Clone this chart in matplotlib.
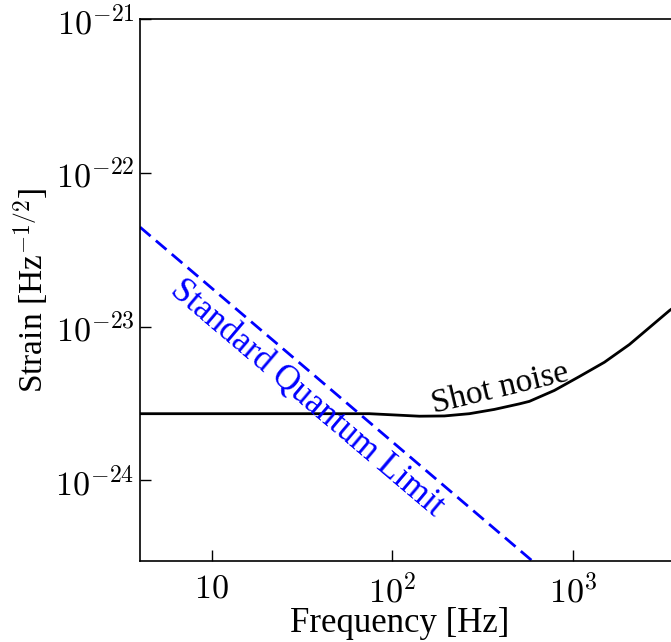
import numpy as np
import matplotlib
matplotlib.use('Agg')
import matplotlib.pyplot as plt

# values
shot_freq = [4, 20, 50, 74.6, 102.6, 141.2, 194.2, 267.2, 367.5, 505.6, 574.3,
             790.2, 1087, 1496, 2057, 3427, 4000]
shot_strain = [2.71e-24, 2.71e-24, 2.71e-24, 2.71e-24, 2.66e-24, 2.61e-24,
               2.62e-24, 2.71e-24, 2.89e-24, 3.14e-24, 3.26e-24, 3.84e-24,
               4.73e-24, 5.86e-24, 7.64e-24, 1.27e-23, 1.45e-23]
sql_freq = [4, 597]
sql_strain = [4.44e-23, 2.98e-25]

x_ticks = [10, 100, 1000]
x_labels = ['$10$', '$10^{2}$', '$10^{3}$']
y_ticks = [1e-24, 1e-23, 1e-22, 1e-21]
y_labels = ['$10^{-24}$', '$10^{-23}$', '$10^{-22}$', '$10^{-21}$']

plt.rcParams['mathtext.fontset'] = 'cm'
plt.rcParams['font.family'] = ['Liberation Serif', 'DejaVu Serif']

fig = plt.figure(figsize=(6.71, 6.42), dpi=100)
ax = fig.add_axes([140 / 671, 1 - 561 / 642, 541.5 / 671, (561 - 19.3) / 642])

ax.loglog(shot_freq, shot_strain, color='black', lw=2)
ax.loglog(sql_freq, sql_strain, color='#0000ff', lw=2, linestyle='--', dashes=(5, 2.5))

ax.set_xlim(4, 4000)
ax.set_ylim(2.98e-25, 1e-21)

ax.set_xticks(x_ticks)
ax.set_xticklabels(x_labels)
ax.set_yticks(y_ticks)
ax.set_yticklabels(y_labels)
ax.minorticks_off()
ax.tick_params(which='major', direction='in', length=8, width=1, labelsize=24.5)
ax.tick_params(axis='x', pad=9)
ax.tick_params(axis='y', pad=4)

for s in ax.spines.values():
    s.set_linewidth(1.2)

ax.set_xlabel('Frequency [Hz]', fontsize=25)
ax.xaxis.set_label_coords(0.48, -0.084)
ax.set_ylabel('Strain [Hz$^{-1/2}$]', fontsize=24, labelpad=4)

ax.text(396, 3.95e-24, 'Shot noise', fontsize=24, rotation=13.5,
        rotation_mode='anchor', ha='center', va='center', color='black')
ax.text(33.4, 3.40e-24, 'Standard Quantum Limit', fontsize=25, rotation=-40.3,
        rotation_mode='anchor', ha='center', va='center', color='#0000ff')

fig.savefig('out.png', dpi=100)
